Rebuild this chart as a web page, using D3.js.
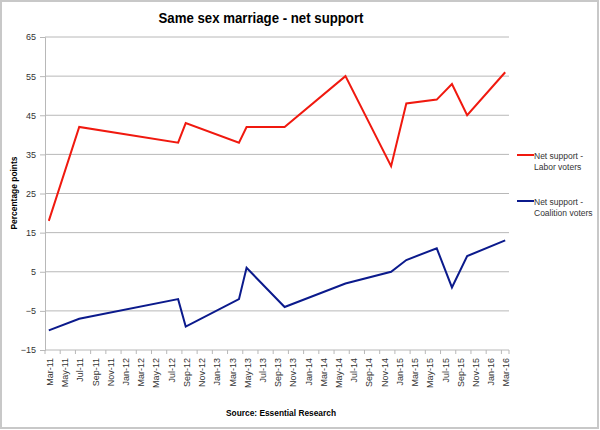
<!DOCTYPE html>
<html>
<head>
<meta charset="utf-8">
<script src="https://cdn.jsdelivr.net/npm/d3@7"></script>
<style>
  html, body { margin: 0; padding: 0; background: #fff; }
  svg { display: block; font-family: "Liberation Sans", Arial, sans-serif; }
</style>
</head>
<body>
<svg id="chart" width="600" height="430"></svg>
<script>
// ---- data ----
const monthLabels = ["Mar-11","Apr-11","May-11","Jun-11","Jul-11","Aug-11","Sep-11","Oct-11","Nov-11","Dec-11",
  "Jan-12","Feb-12","Mar-12","Apr-12","May-12","Jun-12","Jul-12","Aug-12","Sep-12","Oct-12","Nov-12","Dec-12",
  "Jan-13","Feb-13","Mar-13","Apr-13","May-13","Jun-13","Jul-13","Aug-13","Sep-13","Oct-13","Nov-13","Dec-13",
  "Jan-14","Feb-14","Mar-14","Apr-14","May-14","Jun-14","Jul-14","Aug-14","Sep-14","Oct-14","Nov-14","Dec-14",
  "Jan-15","Feb-15","Mar-15","Apr-15","May-15","Jun-15","Jul-15","Aug-15","Sep-15","Oct-15","Nov-15","Dec-15",
  "Jan-16","Feb-16","Mar-16"];
const tickLabels = ["Mar-11","May-11","Jul-11","Sep-11","Nov-11","Jan-12","Mar-12","May-12","Jul-12","Sep-12",
  "Nov-12","Jan-13","Mar-13","May-13","Jul-13","Sep-13","Nov-13","Jan-14","Mar-14","May-14","Jul-14","Sep-14",
  "Nov-14","Jan-15","Mar-15","May-15","Jul-15","Sep-15","Nov-15","Jan-16","Mar-16"];
const pollMonths = ["Mar-11","Jul-11","Aug-12","Sep-12","Apr-13","May-13","Oct-13","Jun-14","Dec-14","Feb-15","Jun-15","Aug-15","Oct-15","Mar-16"];
const laborValues = [18, 42, 38, 43, 38, 42, 42, 55, 32, 48, 49, 53, 45, 56];
const coalitionValues = [-10, -7, -2, -9, -2, 6, -4, 2, 5, 8, 11, 1, 9, 13];
const yTicks = [-15, -5, 5, 15, 25, 35, 45, 55, 65];
const seriesNames = [["Net support -", "Labor voters"], ["Net support -", "Coalition voters"]];
const seriesColors = ["#f0190f", "#0b1a8c"];

// ---- layout ----
const svg = d3.select("#chart");
const plotLeft = 45, plotRight = 509, plotTop = 37, plotBottom = 350;

svg.append("rect").attr("x", 1).attr("y", 1).attr("width", 597).attr("height", 427)
  .attr("fill", "#fff").attr("stroke", "#c8c8c8").attr("stroke-width", 2);

const x = d3.scaleBand().domain(monthLabels).range([plotLeft, plotRight]).paddingInner(0).paddingOuter(0);
const y = d3.scaleLinear().domain([-15, 65]).range([plotBottom, plotTop]);
const cx = m => x(m) + x.bandwidth() / 2;

// gridlines
svg.append("g").selectAll("line").data(yTicks).join("line")
  .attr("x1", plotLeft).attr("x2", plotRight)
  .attr("y1", d => y(d)).attr("y2", d => y(d))
  .attr("stroke", "#b8b8b8").attr("stroke-width", 1);

// y axis
const yAxis = svg.append("g").attr("transform", `translate(${plotLeft},0)`)
  .call(d3.axisLeft(y).tickValues(yTicks).tickSize(5).tickPadding(4).tickFormat(d3.format("d")));
yAxis.select(".domain").attr("stroke", "#b8b8b8");
yAxis.selectAll(".tick line").attr("stroke", "#b8b8b8");
yAxis.selectAll("text").attr("font-size", 9).attr("fill", "#333")
  .attr("font-family", "Liberation Sans, Arial, sans-serif");

// x axis ticks at slot boundaries
const xg = svg.append("g");
xg.selectAll("line").data(tickLabels).join("line")
  .attr("x1", d => x(d)).attr("x2", d => x(d))
  .attr("y1", plotBottom).attr("y2", plotBottom + 4)
  .attr("stroke", "#b8b8b8");
xg.append("line").attr("x1", plotRight).attr("x2", plotRight).attr("y1", plotBottom).attr("y2", plotBottom + 4).attr("stroke", "#b8b8b8");
xg.selectAll("text").data(tickLabels).join("text")
  .attr("transform", d => `translate(${cx(d) + 1},${plotBottom + 8}) rotate(-90)`)
  .attr("text-anchor", "end").attr("dy", "0.35em")
  .attr("font-size", 9).attr("fill", "#333")
  .text(d => d);

// lines
const line = d3.line().x(d => cx(d[0])).y(d => y(d[1]));
[laborValues, coalitionValues].forEach((vals, i) => {
  svg.append("path")
    .datum(pollMonths.map((m, j) => [m, vals[j]]))
    .attr("d", line)
    .attr("fill", "none").attr("stroke", seriesColors[i]).attr("stroke-width", 2)
    .attr("stroke-linejoin", "miter");
});

// title
svg.append("text").attr("x", 261).attr("y", 23).attr("text-anchor", "middle")
  .attr("font-size", 15).attr("font-weight", "bold").attr("fill", "#000")
  .attr("textLength", 205).attr("lengthAdjust", "spacingAndGlyphs")
  .text("Same sex marriage - net support");

// y axis title
svg.append("text").attr("transform", "translate(17,193) rotate(-90)")
  .attr("text-anchor", "middle").attr("font-size", 9).attr("font-weight", "bold")
  .attr("textLength", 73).attr("lengthAdjust", "spacingAndGlyphs")
  .text("Percentage points");

// source
svg.append("text").attr("x", 281).attr("y", 416).attr("text-anchor", "middle")
  .attr("font-size", 9).attr("font-weight", "bold")
  .attr("textLength", 110).attr("lengthAdjust", "spacingAndGlyphs")
  .text("Source: Essential Research");

// legend
const legendY = [155, 201];
seriesNames.forEach((lines, i) => {
  const g = svg.append("g");
  g.append("line").attr("x1", 517).attr("x2", 534)
    .attr("y1", legendY[i]).attr("y2", legendY[i])
    .attr("stroke", seriesColors[i]).attr("stroke-width", 2);
  lines.forEach((t, k) => {
    g.append("text").attr("x", 534).attr("y", legendY[i] + 4 + k * 11)
      .attr("font-size", 8.5).attr("fill", "#333").text(t);
  });
});
</script>
</body>
</html>
